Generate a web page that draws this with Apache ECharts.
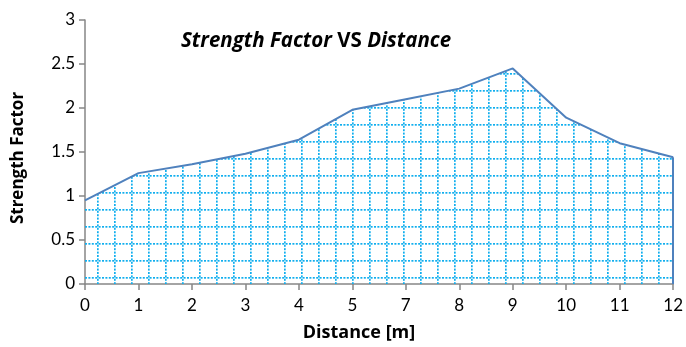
<!DOCTYPE html>
<html>
<head>
<meta charset="utf-8">
<script src="https://cdn.jsdelivr.net/npm/echarts@6/dist/echarts.min.js"></script>
<style>
  html, body { margin: 0; padding: 0; background: #fff; }
  #chart { width: 686px; height: 347px; }
</style>
</head>
<body>
<div id="chart"></div>
<script>
// Distance stations (m) and the strength factor measured at each
const distances = ['0', '1', '2', '3', '4', '5', '7', '8', '9', '10', '11', '12'];
const strengthFactor = [0.95, 1.26, 1.36, 1.48, 1.64, 1.98, 2.10, 2.22, 2.45, 1.89, 1.60, 1.44];
const yTicks = [0, 0.5, 1, 1.5, 2, 2.5, 3];

const FONT = 'Lato, "Open Sans", sans-serif';
const TITLE_FONT = '"Open Sans", Lato, sans-serif';
const AXIS_GRAY = '#868686';
const LINE_BLUE = '#4f81bd';

// Dotted square grid used as the area fill
function gridPattern() {
  const size = 17;
  const c = document.createElement('canvas');
  c.width = size; c.height = size;
  const ctx = c.getContext('2d');
  ctx.fillStyle = '#10aeee';
  // vertical dotted line
  for (let y = 0; y < size; y += 3.4) ctx.fillRect(12, y, 1.7, 2);
  // horizontal dotted line
  for (let x = 0; x < size; x += 3.4) ctx.fillRect(x, 5, 2, 1.7);
  return c;
}

const chart = echarts.init(document.getElementById('chart'), null, { renderer: 'canvas' });

chart.setOption({
  animation: false,
  backgroundColor: '#fff',
  grid: { left: 85, right: 10, top: 20, bottom: 63, containLabel: false },
  title: {
    text: '{i|Strength Factor }{b|VS }{i|Distance}',
    left: 176,
    top: 26,
    textStyle: {
      rich: {
        i: { fontFamily: TITLE_FONT, fontSize: 20.5, fontWeight: 'bold', fontStyle: 'italic', color: '#000' },
        b: { fontFamily: TITLE_FONT, fontSize: 20.5, fontWeight: 'bold', color: '#000' }
      }
    }
  },
  xAxis: {
    type: 'category',
    data: distances,
    boundaryGap: false,
    axisLine: { lineStyle: { color: AXIS_GRAY, width: 1.5 } },
    axisTick: { show: true, length: 6, inside: false, alignWithLabel: true, lineStyle: { color: AXIS_GRAY, width: 1.5 } },
    axisLabel: { color: '#000', fontFamily: FONT, fontSize: 17, margin: 13 },
    splitLine: { show: false }
  },
  yAxis: {
    type: 'value',
    min: yTicks[0],
    max: yTicks[yTicks.length - 1],
    interval: 0.5,
    axisLine: { show: true, lineStyle: { color: AXIS_GRAY, width: 1.5 } },
    axisTick: { show: true, length: 6, lineStyle: { color: AXIS_GRAY, width: 1.5 } },
    axisLabel: { color: '#000', fontFamily: FONT, fontSize: 17, margin: 10 },
    splitLine: { show: false }
  },
  graphic: [
    {
      type: 'text',
      x: 359, y: 333,
      style: {
        text: 'Distance [m]', fontFamily: TITLE_FONT, fontSize: 18, fontWeight: 'bold',
        fill: '#000', textAlign: 'center', textVerticalAlign: 'middle'
      }
    },
    {
      type: 'text',
      x: 18, y: 158,
      rotation: Math.PI / 2,
      style: {
        text: 'Strength Factor', fontFamily: TITLE_FONT, fontSize: 17, fontWeight: 'bold',
        fill: '#000', textAlign: 'center', textVerticalAlign: 'middle'
      }
    }
  ],
  series: [
    {
      type: 'line',
      data: strengthFactor,
      symbol: 'none',
      lineStyle: { color: LINE_BLUE, width: 2 },
      areaStyle: {
        color: { image: gridPattern(), repeat: 'repeat' },
        opacity: 1
      },
      z: 2,
      markLine: {
        silent: true,
        symbol: 'none',
        label: { show: false },
        lineStyle: { color: LINE_BLUE, width: 2, type: 'solid' },
        data: [[
          { coord: [distances[distances.length - 1], 0] },
          { coord: [distances[distances.length - 1], strengthFactor[strengthFactor.length - 1]] }
        ]]
      }
    }
  ]
});
</script>
</body>
</html>
